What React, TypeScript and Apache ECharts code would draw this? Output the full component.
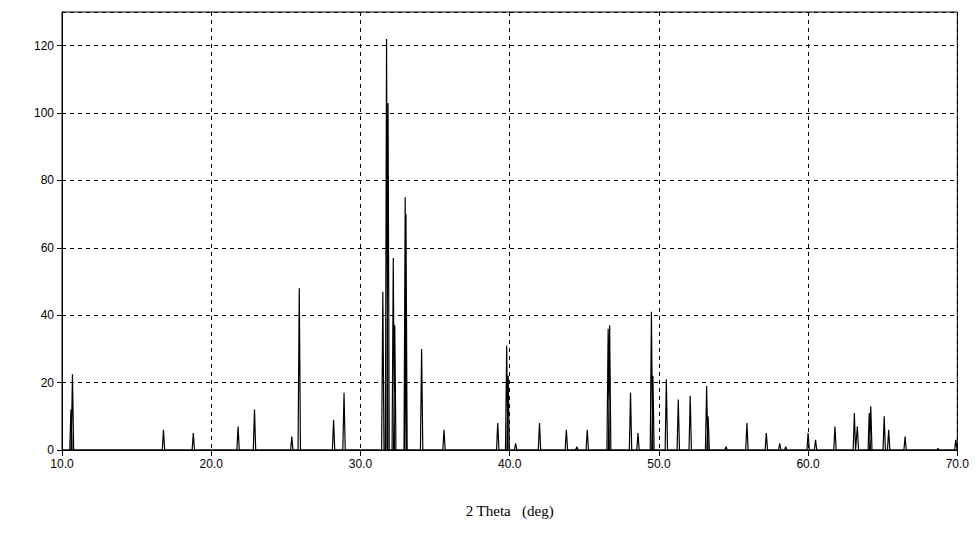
import React, { useEffect, useRef } from "react";
import * as echarts from "echarts";

const peakPositions = [10.6, 10.7, 16.8, 18.8, 21.8, 22.9, 25.4, 25.9, 28.2, 28.9, 31.5, 31.75, 31.85, 32.2, 32.3, 33.0, 33.05, 34.1, 35.6, 39.2, 39.8, 39.9, 40.4, 42.0, 43.8, 44.5, 45.2, 46.6, 46.7, 48.1, 48.6, 49.5, 49.6, 50.5, 51.3, 52.1, 53.2, 53.3, 54.5, 55.9, 57.2, 58.1, 58.5, 60.0, 60.5, 61.8, 63.1, 63.3, 64.1, 64.2, 65.1, 65.4, 66.5, 68.7, 69.9];
const peakHeights = [12, 22.5, 6, 5, 7, 12, 4, 48, 9, 17, 47, 122, 103, 57, 37, 75, 70, 30, 6, 8, 31, 22, 2, 8, 6, 1, 6, 36, 37, 17, 5, 41, 22, 21, 15, 16, 19, 10, 1, 8, 5, 2, 1, 5, 3, 7, 11, 7, 11, 13, 10, 6, 4, 0.5, 3];
const xTicks = ["10.0", "20.0", "30.0", "40.0", "50.0", "60.0", "70.0"];
const yTicks = [0, 20, 40, 60, 80, 100, 120];

export default function App() {
  const ref = useRef<HTMLDivElement>(null);
  useEffect(() => {
    const chart = echarts.init(ref.current!, null, { renderer: "svg" });
    const data: number[][] = [[10, 0]];
    peakPositions.forEach((p, i) => {
      data.push([p - 0.08, 0], [p, peakHeights[i]], [p + 0.08, 0]);
    });
    data.push([70, 0]);
    chart.setOption({
      animation: false,
      grid: { left: 54, right: 7, top: 4, bottom: 81, show: true, borderColor: "#000", borderWidth: 1 },
      xAxis: {
        type: "value", min: 10, max: 70, interval: 10,
        axisLine: { lineStyle: { color: "#000" } },
        axisTick: { show: true, length: 6, lineStyle: { color: "#000" } },
        axisLabel: { color: "#000", fontFamily: "Liberation Sans", fontSize: 12, formatter: (v: number) => xTicks[(v - 10) / 10] },
        splitLine: { show: true, lineStyle: { color: "#000", type: [4, 4] } },
        name: "2 Theta   (deg)", nameLocation: "middle", nameGap: 53,
        nameTextStyle: { fontFamily: "Liberation Serif", fontSize: 15, color: "#000" },
      },
      yAxis: {
        type: "value", min: 0, max: 130, interval: 20,
        axisLine: { show: true, lineStyle: { color: "#000" } },
        axisTick: { show: true, length: 5, lineStyle: { color: "#000" } },
        axisLabel: { color: "#000", fontFamily: "Liberation Sans", fontSize: 12, showMaxLabel: false, formatter: (v: number) => (yTicks.includes(v) ? String(v) : "") },
        splitLine: { show: true, lineStyle: { color: "#000", type: [4, 4] } },
      },
      series: [{ type: "line", data, symbol: "none", lineStyle: { color: "#000", width: 1.2 } }],
    });
    return () => chart.dispose();
  }, []);
  return <div ref={ref} style={{ width: 964, height: 523 }} />;
}
